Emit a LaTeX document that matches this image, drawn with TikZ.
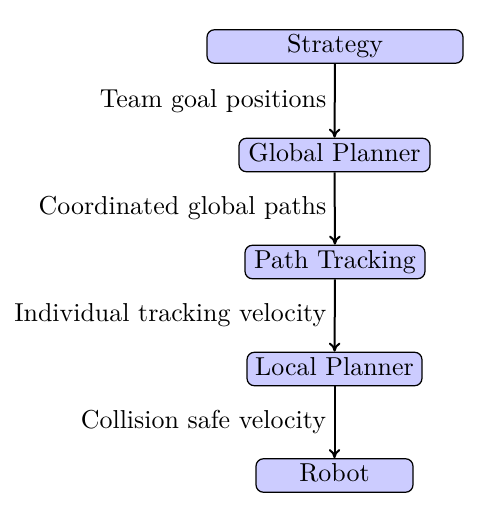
\documentclass[tikz,border=0pt]{standalone}
\usetikzlibrary{arrows.meta}
\begin{document}
\begin{tikzpicture}[x=0.4pt,y=-0.4pt,
  every node/.style={font=\fontsize{10.37}{12.4}\selectfont},
  blk/.style={draw, rounded corners=3pt, fill=blue!20, line width=0.5pt, inner sep=0pt, minimum height=13.4pt, text height=7pt, text depth=2pt},
  flow/.style={-{To[length=3.6pt,width=4.6pt]}, line width=0.8pt},
  lbl/.style={left, inner sep=3pt}]
\useasboundingbox (0,0) rectangle (484,505);
\node[blk, minimum width=102.4pt] (s) at (335,46.5) {Strategy};
\node[blk, minimum width=76.4pt] (g) at (334.5,155) {Global Planner};
\node[blk, minimum width=72pt] (p) at (335,262) {Path Tracking};
\node[blk, minimum width=70pt] (l) at (334.5,369) {Local Planner};
\node[blk, minimum width=62.8pt] (r) at (334.5,475.5) {Robot};
\draw[flow] (s) -- node[lbl] {Team goal positions} (g);
\draw[flow] (g) -- node[lbl] {Coordinated global paths} (p);
\draw[flow] (p) -- node[lbl] {Individual tracking velocity} (l);
\draw[flow] (l) -- node[lbl] {Collision safe velocity} (r);
\end{tikzpicture}
\end{document}
